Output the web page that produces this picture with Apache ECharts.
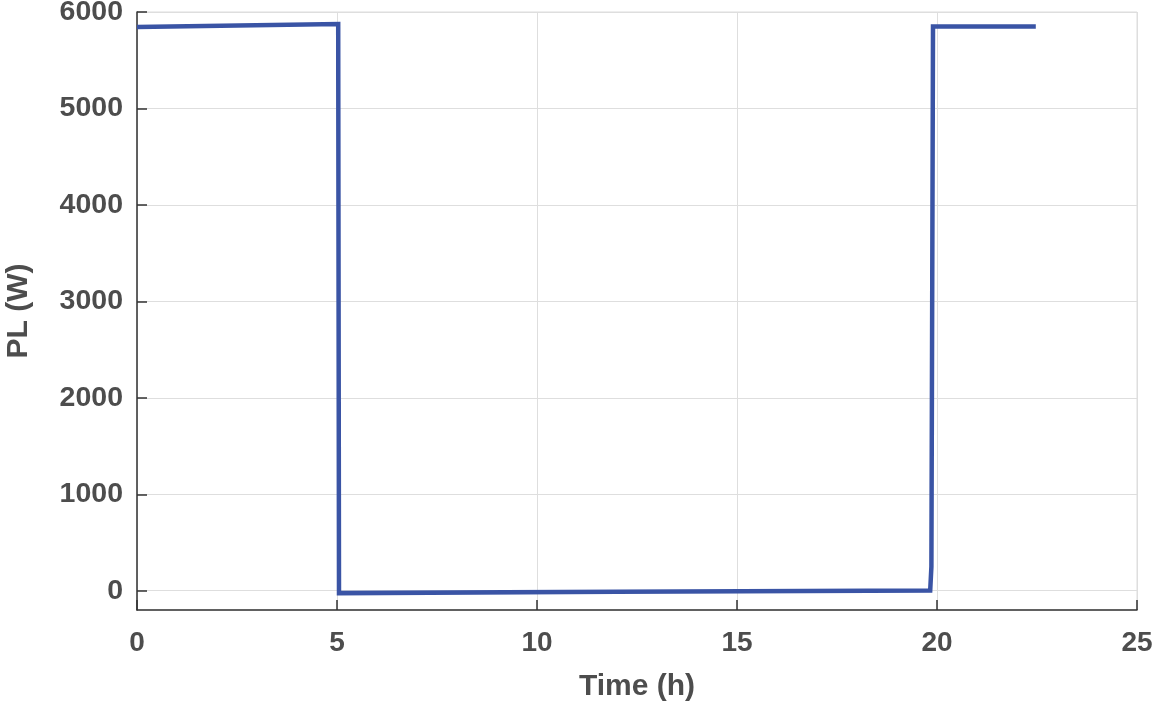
<!DOCTYPE html>
<html>
<head>
<meta charset="utf-8">
<script src="https://cdn.jsdelivr.net/npm/echarts@6/dist/echarts.min.js"></script>
<style>html,body{margin:0;padding:0;background:#fff;}#c{width:1155px;height:710px;}</style>
</head>
<body>
<div id="c"></div>
<script>
// Data
const timeH = [0, 5.03, 5.05, 12, 19.83, 19.86, 19.9, 22.47];
const plW   = [5845, 5876, -25, -12, 3, 250, 5850, 5850];
const yTicks = [0, 1000, 2000, 3000, 4000, 5000, 6000];

const chart = echarts.init(document.getElementById('c'), null, {renderer: 'canvas'});
const txt = '#4d4d4d';
const font = 'Liberation Sans';
chart.setOption({
  animation: false,
  backgroundColor: '#fff',
  grid: {left: 137, right: 18, top: 12, bottom: 100, outerBoundsMode: 'none', containLabel: false,
         show: true, borderColor: '#dcdcdc', borderWidth: 1},
  xAxis: {
    type: 'value', min: 0, max: 25, interval: 5,
    name: 'Time (h)', nameLocation: 'middle', nameGap: 62,
    nameTextStyle: {fontFamily: font, fontWeight: 'bold', fontSize: 30, color: txt},
    axisLine: {show: true, onZero: false, lineStyle: {color: '#333', width: 1.5}},
    axisTick: {show: true, inside: true, length: 10, lineStyle: {color: '#333', width: 1.5}},
    axisLabel: {margin: 19, fontFamily: font, fontWeight: 'bold', fontSize: 28, color: txt},
    splitLine: {show: true, lineStyle: {color: '#dedede', width: 1}}
  },
  yAxis: {
    type: 'value', min: -200, max: 6000,
    name: 'PL (W)', nameLocation: 'middle', nameGap: 103, nameRotate: 90,
    nameTextStyle: {fontFamily: font, fontWeight: 'bold', fontSize: 30, color: txt},
    axisLine: {show: true, onZero: false, lineStyle: {color: '#333', width: 1.5}},
    axisTick: {show: true, inside: true, length: 10, customValues: yTicks, lineStyle: {color: '#333', width: 1.5}},
    axisLabel: {margin: 14, customValues: yTicks, formatter: v => String(v), fontFamily: font, fontWeight: 'bold', fontSize: 28.5, color: txt},
    splitLine: {show: true, lineStyle: {color: '#dedede', width: 1}}
  },
  series: [{
    type: 'line',
    data: timeH.map((t, i) => [t, plW[i]]),
    showSymbol: false,
    lineStyle: {color: '#3a54a5', width: 4.5, join: 'miter'},
    itemStyle: {color: '#3a54a5'}
  }]
});
</script>
</body>
</html>
